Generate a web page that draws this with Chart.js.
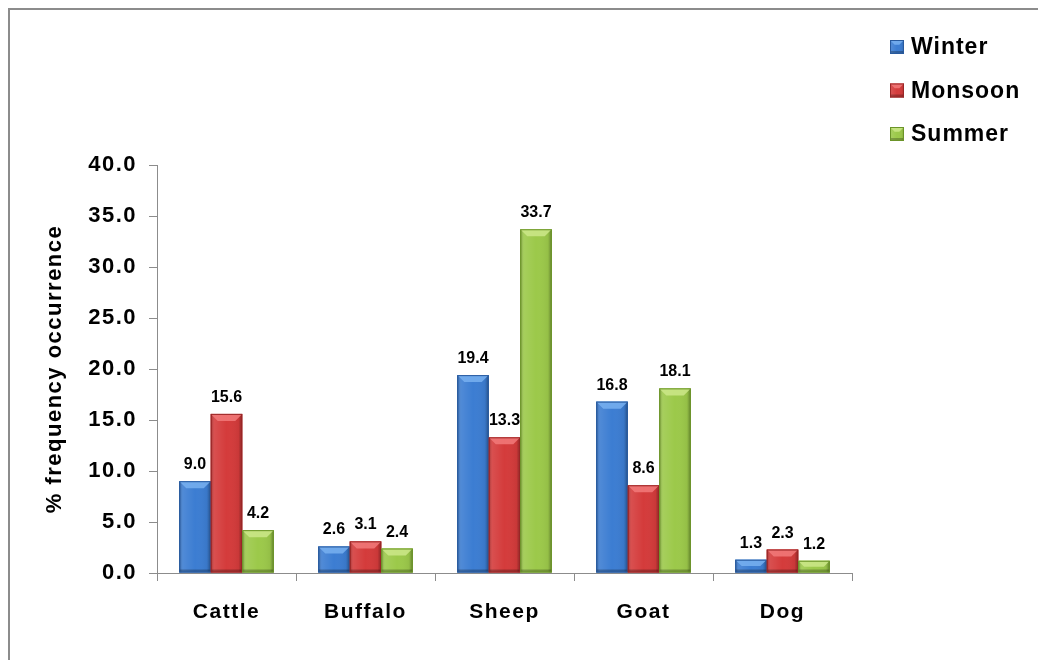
<!DOCTYPE html>
<html>
<head>
<meta charset="utf-8">
<script src="https://cdn.jsdelivr.net/npm/chart.js@4/dist/chart.umd.min.js"></script>
<style>
  html, body { margin: 0; padding: 0; background: #fff; }
  #wrap { width: 1038px; height: 660px; position: relative; }
</style>
</head>
<body>
<div id="wrap"><canvas id="chart-season"></canvas></div>
<script>
const animals = ['Cattle', 'Buffalo', 'Sheep', 'Goat', 'Dog'];
const winter  = [9.0, 2.6, 19.4, 16.8, 1.3];
const monsoon = [15.6, 3.1, 13.3, 8.6, 2.3];
const summer  = [4.2, 2.4, 33.7, 18.1, 1.2];
const seasonNames = ['Winter', 'Monsoon', 'Summer'];

const FONT = '"Liberation Sans", Arial, sans-serif';
const AXIS_GREY = '#8c8c8c';

// body, edge and highlight shades for each season
const palette = [
  { body: '#3c7dd2', edge: '#285a9e', light: '#78b0f0' },
  { body: '#d43b3b', edge: '#9a2626', light: '#f27a7a' },
  { body: '#9cc94a', edge: '#6b9428', light: '#cde88a' },
];

function bevelRect(ctx, l, t, w, h, c) {
  ctx.fillStyle = c.body;
  ctx.fillRect(l, t, w, h);
  // side shading
  const g = ctx.createLinearGradient(l, 0, l + w, 0);
  g.addColorStop(0, 'rgba(0,0,0,0.28)');
  g.addColorStop(0.12, 'rgba(255,255,255,0.10)');
  g.addColorStop(0.5, 'rgba(255,255,255,0)');
  g.addColorStop(0.88, 'rgba(0,0,0,0.05)');
  g.addColorStop(1, 'rgba(0,0,0,0.35)');
  ctx.fillStyle = g;
  ctx.fillRect(l, t, w, h);
  // top bevel
  const b = Math.min(7, h / 2, w / 3);
  ctx.fillStyle = c.light;
  ctx.globalAlpha = 0.85;
  ctx.beginPath();
  ctx.moveTo(l, t); ctx.lineTo(l + w, t);
  ctx.lineTo(l + w - b, t + b); ctx.lineTo(l + b, t + b);
  ctx.closePath(); ctx.fill();
  ctx.globalAlpha = 1;
  // bottom edge
  ctx.fillStyle = 'rgba(0,0,0,0.25)';
  ctx.fillRect(l, t + h - Math.min(3, h / 3), w, Math.min(3, h / 3));
  ctx.strokeStyle = c.edge;
  ctx.lineWidth = 1;
  ctx.strokeRect(l + 0.5, t + 0.5, w - 1, h - 1);
}

const frame = {
  id: 'frame',
  beforeDraw(chart) {
    const { ctx } = chart;
    ctx.letterSpacing = '1.5px';
    ctx.save();
    ctx.strokeStyle = AXIS_GREY;
    ctx.lineWidth = 2;
    ctx.beginPath();
    ctx.moveTo(9, chart.height); ctx.lineTo(9, 9); ctx.lineTo(chart.width, 9);
    ctx.stroke();
    ctx.restore();
  },
};

const bevels = {
  id: 'bevels',
  afterDatasetsDraw(chart) {
    const { ctx } = chart;
    ctx.save();
    chart.data.datasets.forEach((ds, di) => {
      chart.getDatasetMeta(di).data.forEach(bar => {
        const { x, y, base, width } = bar.getProps(['x', 'y', 'base', 'width'], true);
        bevelRect(ctx, x - width / 2, y, width, base - y, palette[di]);
      });
    });
    ctx.restore();
  },
};

const valueLabels = {
  id: 'value-labels',
  afterDatasetsDraw(chart) {
    const { ctx } = chart;
    ctx.save();
    ctx.letterSpacing = '0px';
    ctx.fillStyle = '#000';
    ctx.font = `bold 16px ${FONT}`;
    ctx.textAlign = 'center';
    ctx.textBaseline = 'alphabetic';
    chart.data.datasets.forEach((ds, di) => {
      chart.getDatasetMeta(di).data.forEach((bar, i) => {
        ctx.fillText(ds.data[i].toFixed(1), bar.x, bar.y - 12);
      });
    });
    ctx.restore();
  },
};

const sideLegend = {
  id: 'side-legend',
  afterDraw(chart) {
    const { ctx } = chart;
    ctx.save();
    ctx.letterSpacing = '1px';
    ctx.font = `bold 23px ${FONT}`;
    ctx.fillStyle = '#000';
    ctx.textBaseline = 'middle';
    seasonNames.forEach((name, i) => {
      const cy = 47 + i * 43.5;
      bevelRect(ctx, 890, cy - 7, 14, 14, palette[i]);
      ctx.fillStyle = '#000';
      ctx.fillText(name, 911, cy + 1);
    });
    ctx.restore();
  },
};

new Chart(document.getElementById('chart-season').getContext('2d'), {
  type: 'bar',
  data: {
    labels: animals,
    datasets: [winter, monsoon, summer].map((data, i) => ({
      label: seasonNames[i],
      data,
      backgroundColor: palette[i].body,
      borderWidth: 0,
      categoryPercentage: 0.68,
      barPercentage: 1.0,
    })),
  },
  options: {
    responsive: true,
    maintainAspectRatio: false,
    animation: false,
    layout: { padding: { top: 165, right: 186, bottom: 0, left: 0 } },
    plugins: {
      legend: { display: false },
      tooltip: { enabled: false },
    },
    scales: {
      x: {
        afterFit: s => { s.height = 87; },
        grid: { offset: true, drawOnChartArea: false, drawTicks: true, tickLength: 8, color: AXIS_GREY },
        border: { display: true, color: AXIS_GREY, width: 1 },
        ticks: { color: '#000', padding: 19, font: { family: FONT, size: 21, weight: 'bold' } },
      },
      y: {
        min: 0,
        max: 40,
        afterFit: s => { s.width = 157; },
        grid: { drawOnChartArea: false, drawTicks: true, tickLength: 8, color: AXIS_GREY },
        border: { display: true, color: AXIS_GREY, width: 1 },
        ticks: {
          stepSize: 5,
          color: '#000',
          padding: 12,
          font: { family: FONT, size: 22, weight: 'bold' },
          callback: v => Number(v).toFixed(1),
        },
        title: {
          display: true,
          text: '% frequency occurrence',
          color: '#000',
          padding: { top: 42, bottom: 0 },
          font: { family: FONT, size: 22, weight: 'bold' },
        },
      },
    },
  },
  plugins: [frame, bevels, valueLabels, sideLegend],
});
</script>
</body>
</html>
